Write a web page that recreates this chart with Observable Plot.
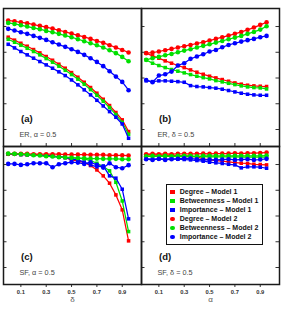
<!DOCTYPE html>
<html><head><meta charset="utf-8">
<script src="https://cdn.jsdelivr.net/npm/d3@7"></script>
<script src="https://cdn.jsdelivr.net/npm/@observablehq/plot@0.6"></script>
<style>
body{margin:0;background:#fff;}
#wrap{position:relative;width:287px;height:323px;font-family:"Liberation Sans",Arial,sans-serif;}
</style></head><body><div id="wrap"></div>
<script>
const xValues = [0,0.05,0.1,0.15,0.2,0.25,0.3,0.35,0.4,0.45,0.5,0.55,0.6,0.65,0.7,0.75,0.8,0.85,0.9,0.95];
const xTicks = [0.1,0.3,0.5,0.7,0.9];
const yTicks = [0.2,0.4,0.6,0.8,1.0];

const seriesNames = ["Degree – Model 1","Betweenness – Model 1","Importance – Model 1","Degree – Model 2","Betweenness – Model 2","Importance – Model 2"];
const seriesColors = ["#ff0000","#00e000","#0000ff","#ff0000","#00e000","#0000ff"];
const seriesSymbols = ["square","square","square","circle","circle","circle"];

const panelLabels = ["(a)","(b)","(c)","(d)"];
const panelCaptions = ["ER, α = 0.5","ER, δ = 0.5","SF, α = 0.5","SF, δ = 0.5"];
const axisLabels = ["δ","α"];

// panel (a)
const a_deg1 = [0.917,0.894,0.870,0.847,0.821,0.795,0.767,0.738,0.707,0.676,0.642,0.606,0.567,0.526,0.482,0.435,0.386,0.332,0.275,0.184];
const a_btw1 = [0.901,0.878,0.855,0.831,0.806,0.780,0.751,0.723,0.692,0.660,0.627,0.591,0.552,0.510,0.466,0.420,0.370,0.316,0.256,0.163];
const a_imp1 = [0.862,0.834,0.806,0.780,0.754,0.728,0.702,0.676,0.648,0.619,0.585,0.547,0.508,0.469,0.427,0.383,0.339,0.295,0.243,0.132];
const a_deg2 = [1.046,1.041,1.033,1.026,1.015,1.005,0.995,0.984,0.971,0.958,0.945,0.932,0.919,0.904,0.888,0.873,0.855,0.837,0.818,0.798];
const a_btw2 = [1.028,1.020,1.010,1.000,0.989,0.979,0.966,0.956,0.943,0.930,0.917,0.901,0.886,0.870,0.855,0.837,0.816,0.793,0.764,0.730];
const a_imp2 = [0.982,0.969,0.956,0.943,0.927,0.912,0.896,0.878,0.860,0.842,0.824,0.803,0.780,0.754,0.725,0.692,0.653,0.611,0.570,0.505];
// panel (b)
const b_deg1 = [0.793,0.772,0.754,0.733,0.715,0.697,0.681,0.663,0.645,0.629,0.614,0.601,0.588,0.575,0.562,0.552,0.544,0.539,0.536,0.534];
const b_btw1 = [0.741,0.715,0.697,0.681,0.666,0.653,0.640,0.627,0.614,0.603,0.593,0.580,0.570,0.559,0.549,0.539,0.531,0.526,0.523,0.515];
const b_imp1 = [0.578,0.572,0.578,0.578,0.575,0.572,0.567,0.541,0.534,0.531,0.526,0.521,0.513,0.503,0.492,0.482,0.474,0.469,0.466,0.466];
const b_deg2 = [0.793,0.798,0.806,0.816,0.826,0.837,0.847,0.857,0.868,0.878,0.891,0.904,0.917,0.930,0.943,0.958,0.974,0.992,1.013,1.033];
const b_btw2 = [0.741,0.754,0.764,0.777,0.787,0.800,0.813,0.824,0.837,0.850,0.862,0.875,0.888,0.901,0.914,0.927,0.943,0.958,0.976,1.002];
const b_imp2 = [0.585,0.567,0.619,0.629,0.650,0.697,0.715,0.749,0.767,0.785,0.806,0.818,0.839,0.857,0.870,0.883,0.894,0.904,0.917,0.927];
// panel (c)
const c_deg1 = [1.080,1.080,1.077,1.075,1.075,1.072,1.070,1.067,1.062,1.054,1.036,1.028,1.015,0.992,0.958,0.912,0.855,0.764,0.648,0.407];
const c_btw1 = [1.083,1.083,1.080,1.077,1.075,1.072,1.070,1.064,1.062,1.057,1.054,1.049,1.044,1.031,1.010,0.984,0.951,0.862,0.717,0.479];
const c_imp1 = [1.080,1.080,1.077,1.077,1.075,1.072,1.070,1.064,1.059,1.054,1.041,1.036,1.018,0.997,0.982,0.989,0.912,0.894,0.808,0.578];
const c_deg2 = [1.083,1.083,1.083,1.083,1.080,1.080,1.080,1.080,1.080,1.077,1.077,1.077,1.077,1.075,1.075,1.075,1.072,1.072,1.072,1.070];
const c_btw2 = [1.085,1.083,1.080,1.077,1.072,1.070,1.064,1.062,1.057,1.054,1.052,1.049,1.049,1.046,1.046,1.044,1.044,1.044,1.041,1.041];
const c_imp2 = [1.005,1.005,0.997,1.002,1.010,1.010,1.010,0.979,1.002,1.010,1.018,1.015,1.005,1.018,0.997,0.976,1.010,0.979,0.971,0.995];
// panel (d)
const d_deg1 = [1.075,1.075,1.072,1.072,1.070,1.070,1.067,1.064,1.059,1.044,1.036,1.031,1.026,1.020,1.015,1.010,1.008,1.002,1.000,0.997];
const d_btw1 = [1.064,1.064,1.064,1.064,1.064,1.062,1.062,1.062,1.062,1.062,1.059,1.059,1.059,1.059,1.059,1.057,1.057,1.057,1.057,1.057];
const d_imp1 = [1.044,1.041,1.044,1.041,1.044,1.041,1.039,1.036,1.031,1.026,1.018,1.013,1.008,1.002,0.997,0.974,0.982,0.982,0.979,0.971];
const d_deg2 = [1.080,1.083,1.080,1.083,1.080,1.083,1.083,1.083,1.083,1.085,1.083,1.085,1.085,1.085,1.088,1.085,1.088,1.088,1.090,1.093];
const d_btw2 = [1.064,1.067,1.064,1.067,1.064,1.067,1.067,1.067,1.064,1.067,1.067,1.067,1.067,1.067,1.067,1.067,1.067,1.067,1.067,1.070];
const d_imp2 = [1.041,1.036,1.044,1.036,1.041,1.044,1.049,1.046,1.041,1.036,1.039,1.036,1.039,1.041,1.036,1.039,1.041,1.036,1.039,1.044];

const panels = [
  {col:"L", row:"T", series:[a_deg1,a_btw1,a_imp1,a_deg2,a_btw2,a_imp2]},
  {col:"R", row:"T", series:[b_deg1,b_btw1,b_imp1,b_deg2,b_btw2,b_imp2]},
  {col:"L", row:"B", series:[c_deg1,c_btw1,c_imp1,c_deg2,c_btw2,c_imp2]},
  {col:"R", row:"B", series:[d_deg1,d_btw1,d_imp1,d_deg2,d_btw2,d_imp2]}
];

const W = 287, H = 323, mL = 3, mR = 8, mT = 7, mB = 39;
const FW = (W - mL - mR) / 2, FH = (H - mT - mB) / 2;

const marks = [];
seriesNames.forEach((name, j) => {
  const rows = panels.flatMap(p => p.series[j].map((v, i) => ({fx:p.col, fy:p.row, x:xValues[i], y:v})));
  marks.push(Plot.line(rows, {x:"x", y:"y", fx:"fx", fy:"fy", stroke:seriesColors[j], strokeWidth:1.25}));
  marks.push(Plot.dot(rows, {x:"x", y:"y", fx:"fx", fy:"fy", fill:seriesColors[j], stroke:"none",
    symbol:seriesSymbols[j], r: seriesSymbols[j]==="square" ? 2.0 : 2.3}));
});

const yTickData = panels.flatMap(p => yTicks.map(v => ({fx:p.col, fy:p.row, v})));
const xTickTop = panels.filter(p => p.row==="T").flatMap(p => xTicks.map(v => ({fx:p.col, fy:p.row, v})));
const labelData = panels.map((p, k) => ({fx:p.col, fy:p.row, label:panelLabels[k], caption:panelCaptions[k]}));
const axisLabelData = [{fx:"L", fy:"B", t:axisLabels[0]}, {fx:"R", fy:"B", t:axisLabels[1]}];

const chart = Plot.plot({
  width: W, height: H,
  marginLeft: mL, marginRight: mR, marginTop: mT, marginBottom: mB,
  style: {fontFamily:"'Liberation Sans', Arial, sans-serif", background:"#fff", overflow:"visible"},
  fx: {domain:["L","R"], padding:0, axis:null},
  fy: {domain:["T","B"], padding:0, axis:null},
  x: {domain:[-0.037, 1.052], axis:null},
  y: {domain:[0.068, 1.14], axis:null},
  marks: [
    ...marks,
    Plot.tickY(yTickData, {y:"v", fx:"fx", fy:"fy", insetRight: FW - 3.5, stroke:"#333", strokeWidth:1}),
    Plot.tickY(yTickData.filter(d => d.fx==="R"), {y:"v", fx:"fx", fy:"fy", insetLeft: FW - 3.5, stroke:"#333", strokeWidth:1}),
    Plot.tickX(xTickTop, {x:"v", fx:"fx", fy:"fy", insetTop: FH - 3.5, stroke:"#333", strokeWidth:1}),
    Plot.axisX(xTicks, {anchor:"bottom", tickSize:3, tickPadding:2, tickFormat:d => d.toFixed(1),
      fontSize:5.8, fontWeight:"bold", fill:"#333", stroke:"#333", label:null}),
    Plot.frame({stroke:"#1a1a1a", strokeWidth:1.5}),
    Plot.text(labelData, {fx:"fx", fy:"fy", text:"label", frameAnchor:"top-left", dx:17.5, dy:110,
      textAnchor:"start", lineAnchor:"middle", fontSize:9.5, fontWeight:"bold", fill:"#111"}),
    Plot.text(labelData, {fx:"fx", fy:"fy", text:"caption", frameAnchor:"top-left", dx:16, dy:126.5,
      textAnchor:"start", lineAnchor:"middle", fontSize:7.3, fill:"#444"}),
    Plot.text(axisLabelData, {fx:"fx", fy:"fy", text:"t", frameAnchor:"bottom", dy:15,
      lineAnchor:"middle", fontSize:8, fill:"#555"})
  ]
});

const wrap = document.getElementById("wrap");
wrap.appendChild(chart);

// legend overlay inside panel (d)
const legend = document.createElement("div");
legend.style.cssText = "position:absolute;left:166px;top:184px;width:97px;height:61px;border:1.5px solid #111;background:#fff;box-sizing:border-box;";
seriesNames.forEach((name, j) => {
  const row = document.createElement("div");
  row.style.cssText = `position:absolute;left:0;top:${2.6 + 9 * j}px;height:9px;width:95px;`;
  const sw = document.createElement("span");
  const round = seriesSymbols[j] === "circle";
  sw.style.cssText = `position:absolute;left:3.2px;top:2.2px;width:4.5px;height:4.5px;background:${seriesColors[j]};border-radius:${round ? "50%" : "0"};`;
  const tx = document.createElement("span");
  tx.textContent = name;
  tx.style.cssText = "position:absolute;left:12.8px;top:0;line-height:9px;font:bold 7px 'Liberation Sans',Arial,sans-serif;color:#111;white-space:nowrap;";
  row.appendChild(sw); row.appendChild(tx);
  legend.appendChild(row);
});
wrap.appendChild(legend);
</script>
</body></html>
